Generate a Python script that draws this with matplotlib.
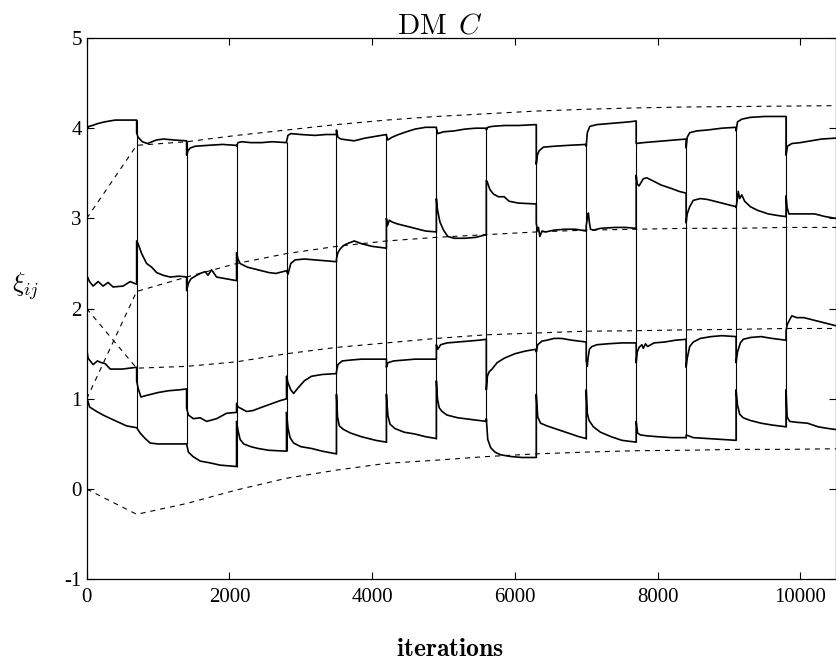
import matplotlib
matplotlib.use("Agg")
import matplotlib.pyplot as plt

plt.rcParams['font.family'] = ['Liberation Serif', 'DejaVu Serif']
plt.rcParams['mathtext.fontset'] = 'cm'

# length of one training block (iterations)
SEGMENT = 700

# running estimates (dashed), sampled at every block boundary
avg_iter = [0, 700, 1400, 2100, 2800, 3500, 4200, 4900, 5600, 6300,
            7000, 7700, 8400, 9100, 9800, 10500]
avg_a = [3.00, 3.81, 3.85, 3.92, 3.98, 4.04, 4.09, 4.13, 4.16, 4.19,
         4.21, 4.225, 4.235, 4.24, 4.245, 4.25]
avg_b = [1.00, 2.19, 2.35, 2.50, 2.61, 2.69, 2.75, 2.79, 2.82, 2.85,
         2.87, 2.88, 2.89, 2.89, 2.90, 2.90]
avg_c = [2.00, 1.34, 1.36, 1.41, 1.50, 1.57, 1.62, 1.67, 1.71, 1.73,
         1.75, 1.755, 1.765, 1.77, 1.78, 1.78]
avg_d = [0.00, -0.28, -0.16, -0.01, 0.12, 0.21, 0.285, 0.32, 0.36, 0.39,
         0.41, 0.425, 0.43, 0.44, 0.44, 0.447]

# per-block traces of xi_ij: (iterations into block, value)
trace_a = [
    ([0, 30, 80, 150, 250, 400, 550, 700], [3.98, 4.02, 4.03, 4.05, 4.07, 4.09, 4.09, 4.09]),
    ([0, 20, 80, 150, 280, 380, 510, 700], [3.95, 3.90, 3.85, 3.83, 3.87, 3.88, 3.87, 3.86]),
    ([0, 20, 50, 120, 300, 500, 700], [3.70, 3.75, 3.78, 3.80, 3.81, 3.82, 3.81]),
    ([0, 20, 70, 200, 350, 500, 700], [3.80, 3.84, 3.85, 3.84, 3.84, 3.85, 3.84]),
    ([0, 20, 60, 200, 400, 550, 700], [3.85, 3.92, 3.94, 3.93, 3.92, 3.93, 3.93]),
    ([0, 20, 60, 150, 250, 400, 550, 700], [3.98, 3.90, 3.88, 3.87, 3.86, 3.89, 3.91, 3.93]),
    ([0, 20, 80, 170, 280, 400, 550, 700], [3.92, 3.87, 3.90, 3.93, 3.96, 3.99, 4.01, 4.01]),
    ([0, 20, 100, 250, 400, 550, 700], [4.00, 3.94, 3.96, 3.97, 3.99, 4.00, 4.00]),
    ([0, 20, 80, 250, 450, 700], [3.98, 4.01, 4.02, 4.03, 4.03, 4.04]),
    ([0, 15, 40, 100, 250, 450, 700], [3.60, 3.70, 3.75, 3.79, 3.80, 3.81, 3.82]),
    ([0, 15, 50, 150, 300, 450, 600, 700], [3.80, 3.95, 4.02, 4.04, 4.05, 4.06, 4.07, 4.08]),
    ([0, 100, 250, 400, 550, 700], [3.83, 3.84, 3.85, 3.86, 3.87, 3.88]),
    ([0, 15, 50, 150, 300, 500, 700], [3.78, 3.90, 3.95, 3.97, 3.98, 4.00, 4.01]),
    ([0, 20, 80, 200, 400, 550, 700], [3.97, 4.07, 4.10, 4.12, 4.13, 4.13, 4.13]),
    ([0, 20, 80, 200, 350, 500, 700], [3.70, 3.80, 3.83, 3.84, 3.86, 3.88, 3.89]),
]
trace_b = [
    ([0, 40, 90, 160, 230, 300, 370, 510, 610, 700], [2.37, 2.30, 2.25, 2.30, 2.25, 2.29, 2.24, 2.25, 2.30, 2.27]),
    ([0, 20, 70, 140, 210, 280, 370, 470, 600, 700], [2.75, 2.72, 2.61, 2.50, 2.46, 2.40, 2.37, 2.35, 2.36, 2.35]),
    ([0, 25, 60, 100, 190, 260, 300, 350, 420, 560, 700], [2.20, 2.28, 2.33, 2.35, 2.39, 2.41, 2.37, 2.43, 2.35, 2.33, 2.31]),
    ([0, 20, 50, 150, 300, 450, 550, 700], [2.62, 2.55, 2.50, 2.46, 2.43, 2.40, 2.39, 2.42]),
    ([0, 20, 60, 120, 250, 400, 550, 700], [2.42, 2.38, 2.50, 2.54, 2.55, 2.54, 2.53, 2.52]),
    ([0, 20, 50, 100, 150, 250, 350, 500, 700], [2.55, 2.62, 2.66, 2.70, 2.72, 2.75, 2.72, 2.69, 2.67]),
    ([0, 15, 40, 80, 150, 250, 400, 550, 700], [3.00, 2.92, 2.98, 2.96, 2.94, 2.92, 2.89, 2.86, 2.85]),
    ([0, 15, 50, 100, 160, 250, 400, 550, 700], [3.22, 3.10, 2.96, 2.87, 2.80, 2.78, 2.78, 2.79, 2.82]),
    ([0, 15, 50, 100, 170, 250, 320, 450, 700], [3.42, 3.40, 3.32, 3.27, 3.24, 3.24, 3.19, 3.17, 3.16]),
    ([0, 15, 30, 50, 80, 130, 250, 400, 550, 700], [2.95, 2.86, 2.90, 2.80, 2.86, 2.85, 2.87, 2.88, 2.88, 2.86]),
    ([0, 15, 30, 45, 60, 100, 200, 400, 550, 700], [2.92, 3.00, 3.06, 2.95, 2.88, 2.87, 2.89, 2.90, 2.90, 2.89]),
    ([0, 15, 40, 100, 150, 250, 350, 500, 600, 700], [3.48, 3.38, 3.36, 3.44, 3.45, 3.41, 3.37, 3.33, 3.30, 3.28]),
    ([0, 15, 50, 100, 200, 300, 450, 600, 700], [2.95, 3.05, 3.13, 3.20, 3.22, 3.21, 3.18, 3.15, 3.13]),
    ([0, 15, 30, 50, 80, 120, 200, 300, 450, 600, 700], [3.12, 3.20, 3.30, 3.22, 3.26, 3.19, 3.13, 3.09, 3.05, 3.03, 3.02]),
    ([0, 15, 40, 100, 250, 400, 550, 700], [3.25, 3.12, 3.05, 3.05, 3.05, 3.05, 3.02, 3.00]),
]
trace_c = [
    ([0, 20, 90, 150, 210, 260, 330, 500, 700], [1.55, 1.45, 1.38, 1.42, 1.40, 1.39, 1.33, 1.33, 1.35]),
    ([0, 20, 60, 100, 200, 300, 450, 600, 700], [1.20, 1.12, 1.02, 1.03, 1.05, 1.07, 1.09, 1.10, 1.11]),
    ([0, 25, 60, 95, 190, 280, 420, 560, 700], [0.90, 0.82, 0.80, 0.78, 0.79, 0.75, 0.78, 0.84, 0.85]),
    ([0, 20, 70, 140, 230, 330, 470, 610, 700], [0.95, 0.91, 0.89, 0.86, 0.87, 0.90, 0.94, 0.98, 1.00]),
    ([0, 20, 60, 100, 160, 250, 350, 500, 700], [1.25, 1.18, 1.10, 1.06, 1.12, 1.20, 1.25, 1.27, 1.28]),
    ([0, 20, 80, 200, 350, 500, 700], [1.30, 1.38, 1.42, 1.43, 1.44, 1.44, 1.44]),
    ([0, 20, 100, 250, 400, 550, 700], [1.35, 1.40, 1.42, 1.43, 1.44, 1.44, 1.44]),
    ([0, 20, 60, 150, 300, 450, 600, 700], [1.60, 1.55, 1.60, 1.62, 1.63, 1.64, 1.65, 1.66]),
    ([0, 15, 40, 80, 150, 250, 400, 550, 700], [1.10, 1.25, 1.30, 1.33, 1.40, 1.45, 1.50, 1.53, 1.55]),
    ([0, 20, 80, 150, 250, 350, 500, 700], [1.52, 1.60, 1.64, 1.65, 1.67, 1.67, 1.65, 1.63]),
    ([0, 15, 25, 45, 80, 150, 300, 500, 700], [1.42, 1.36, 1.45, 1.55, 1.58, 1.60, 1.61, 1.62, 1.62]),
    ([0, 15, 40, 80, 100, 130, 160, 250, 400, 550, 700], [1.40, 1.52, 1.57, 1.60, 1.56, 1.61, 1.58, 1.62, 1.63, 1.65, 1.66]),
    ([0, 15, 50, 100, 200, 350, 500, 700], [1.35, 1.45, 1.58, 1.63, 1.67, 1.69, 1.70, 1.69]),
    ([0, 20, 60, 100, 200, 350, 500, 700], [1.40, 1.52, 1.62, 1.66, 1.68, 1.69, 1.67, 1.65]),
    ([0, 15, 40, 80, 150, 250, 400, 550, 700], [1.75, 1.82, 1.86, 1.92, 1.90, 1.90, 1.87, 1.84, 1.81]),
]
trace_d = [
    ([0, 40, 140, 230, 420, 560, 700], [1.02, 0.91, 0.86, 0.82, 0.75, 0.70, 0.68]),
    ([0, 50, 120, 190, 300, 500, 700], [0.68, 0.62, 0.56, 0.51, 0.50, 0.50, 0.50]),
    ([0, 25, 90, 190, 330, 470, 700], [0.50, 0.41, 0.36, 0.31, 0.29, 0.265, 0.25]),
    ([0, 20, 50, 100, 200, 300, 450, 700], [0.75, 0.65, 0.55, 0.50, 0.47, 0.45, 0.43, 0.42]),
    ([0, 20, 50, 100, 200, 350, 500, 700], [0.85, 0.68, 0.57, 0.51, 0.47, 0.45, 0.42, 0.39]),
    ([0, 15, 40, 100, 200, 350, 550, 700], [1.05, 0.80, 0.70, 0.66, 0.62, 0.58, 0.54, 0.52]),
    ([0, 20, 50, 120, 250, 400, 550, 700], [1.05, 0.82, 0.72, 0.67, 0.63, 0.61, 0.58, 0.56]),
    ([0, 15, 40, 80, 150, 300, 500, 700], [1.20, 1.00, 0.90, 0.86, 0.82, 0.79, 0.77, 0.75]),
    ([0, 20, 60, 120, 200, 350, 500, 700], [0.78, 0.55, 0.46, 0.41, 0.38, 0.36, 0.35, 0.35]),
    ([0, 20, 60, 150, 300, 450, 600, 700], [1.05, 0.80, 0.73, 0.70, 0.66, 0.62, 0.58, 0.56]),
    ([0, 15, 40, 100, 200, 350, 500, 700], [1.10, 0.84, 0.76, 0.69, 0.63, 0.58, 0.54, 0.52]),
    ([0, 20, 60, 150, 300, 500, 700], [0.75, 0.62, 0.60, 0.59, 0.58, 0.57, 0.57]),
    ([0, 100, 300, 500, 700], [0.60, 0.57, 0.56, 0.55, 0.54]),
    ([0, 20, 50, 100, 200, 350, 500, 700], [1.10, 0.93, 0.83, 0.79, 0.76, 0.73, 0.71, 0.69]),
    ([0, 15, 50, 150, 300, 450, 600, 700], [1.10, 0.80, 0.75, 0.74, 0.73, 0.69, 0.67, 0.66]),
]

x_ticks = [0, 2000, 4000, 6000, 8000, 10000]
x_tick_labels = ['0', '2000', '4000', '6000', '8000', '10000']
y_ticks = [-1, 0, 1, 2, 3, 4, 5]
y_tick_labels = ['-1', '0', '1', '2', '3', '4', '5']

fig = plt.figure(figsize=(8.36, 6.64), dpi=100)
ax = fig.add_axes([0.1037, 0.1276, 0.8963, 0.8152])

traces = (trace_a, trace_b, trace_c, trace_d)


def assemble(trace):
    xs, ys = [], []
    for k, (offsets, values) in enumerate(trace):
        start = k * SEGMENT
        xs.extend(start + o for o in offsets)
        ys.extend(values)
    return xs, ys


for trace in traces:
    xs, ys = assemble(trace)
    ax.plot(xs, ys, color='black', lw=1.2)

# the estimates are reshuffled at each block boundary
for k in range(1, len(trace_a)):
    ends = [t[k - 1][1][-1] for t in traces] + [t[k][1][0] for t in traces]
    ax.vlines(k * SEGMENT, min(ends), max(ends), color='black', lw=0.8)

for avg in (avg_a, avg_b, avg_c, avg_d):
    ax.plot(avg_iter, avg, color='black', lw=0.8, linestyle=(0, (4.5, 4.5)))

ax.set_xlim(0, 10500)
ax.set_ylim(-1, 5)
ax.set_xticks(x_ticks)
ax.set_xticklabels(x_tick_labels)
ax.set_yticks(y_ticks)
ax.set_yticklabels(y_tick_labels)
ax.tick_params(direction='in', length=5, width=0.8, top=True, right=True,
               labelsize=15)
ax.tick_params(axis='x', pad=6)
ax.tick_params(axis='y', pad=3.5)
for sp in ax.spines.values():
    sp.set_linewidth(0.9)

fig.text(440 / 836, 1 - 33 / 664, r'$\mathrm{DM}\ \,C$', fontsize=21,
         ha='center', va='baseline')
fig.text(450 / 836, 1 - 656 / 664, r'$\mathbf{iterations}$', fontsize=18.5,
         ha='center', va='baseline')
fig.text(26 / 836, 1 - 286 / 664, r'$\xi_{ij}$', fontsize=19,
         ha='center', va='center')

fig.savefig('out.png', dpi=100)
